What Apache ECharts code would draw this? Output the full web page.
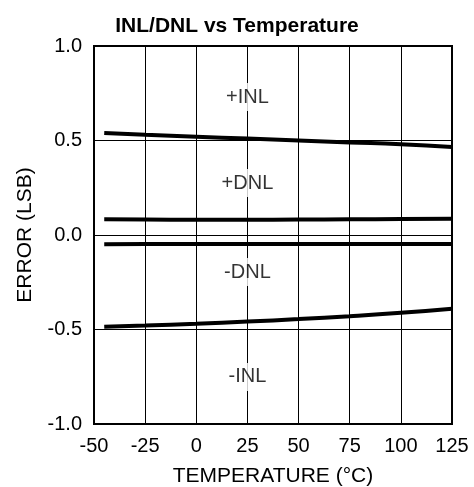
<!DOCTYPE html>
<html>
<head>
<meta charset="utf-8">
<script src="https://cdn.jsdelivr.net/npm/echarts@6/dist/echarts.min.js"></script>
<style>
html,body{margin:0;padding:0;background:#fff;}
#chart{width:474px;height:487px;}
</style>
</head>
<body>
<div id="chart"></div>
<script>
// 温度点
var temps = [-45, -25, 0, 25, 50, 75, 100, 125];
var posINL = [0.54, 0.53, 0.52, 0.51, 0.50, 0.49, 0.48, 0.465];
var posDNL = [0.083, 0.082, 0.081, 0.081, 0.082, 0.083, 0.084, 0.086];
var negDNL = [-0.049, -0.048, -0.048, -0.048, -0.048, -0.048, -0.048, -0.048];
var negINL = [-0.485, -0.479, -0.470, -0.458, -0.445, -0.43, -0.412, -0.39];
var labelNames = ['+INL', '+DNL', '-DNL', '-INL'];
var labelY = [0.73, 0.275, -0.196, -0.751];
var labelX = 25;

function pairs(ys){
	var out = [];
	for(var i=0;i<temps.length;i++){ out.push([temps[i], ys[i]]); }
	return out;
}

function curve(ys){
	return {
		type:'line',
		data:pairs(ys),
		smooth:true,
		symbol:'none',
		lineStyle:{color:'#000', width:4},
		z:3
	};
}

var labelData = [];
for(var i=0;i<labelNames.length;i++){
	labelData.push({value:[labelX, labelY[i]], name:labelNames[i]});
}

var myChart = echarts.init(document.getElementById('chart'));
var font = 'Liberation Sans, Arial, sans-serif';
myChart.setOption({
	animation:false,
	title:{
		text:'INL/DNL vs Temperature',
		left:'center', top:11,
		textStyle:{fontFamily:font, fontSize:21, fontWeight:'bold', color:'#000'}
	},
	grid:{left:94, right:22, top:46, bottom:63, outerBoundsMode:'none', containLabel:false,
		show:true, borderColor:'#000', borderWidth:2, backgroundColor:'transparent'},
	xAxis:{
		type:'value', min:-50, max:125, interval:25,
		name:'TEMPERATURE (°C)', nameLocation:'middle', nameGap:42,
		nameTextStyle:{fontFamily:font, fontSize:21, color:'#000'},
		axisLine:{show:false}, axisTick:{show:false},
		axisLabel:{fontFamily:font, fontSize:20, color:'#000', margin:12},
		splitLine:{show:true, lineStyle:{color:'#000', width:1}}
	},
	yAxis:{
		type:'value', min:-1, max:1, interval:0.5,
		name:'ERROR (LSB)', nameLocation:'middle', nameGap:58,
		nameTextStyle:{fontFamily:font, fontSize:21, color:'#000'},
		axisLine:{show:false}, axisTick:{show:false},
		axisLabel:{fontFamily:font, fontSize:20, color:'#000', margin:12,
			formatter:function(v){ return v.toFixed(1); }},
		splitLine:{show:true, lineStyle:{color:'#000', width:1}}
	},
	series:[
		curve(posINL), curve(posDNL), curve(negDNL), curve(negINL),
		{
			type:'scatter', data:labelData, symbolSize:1, itemStyle:{color:'transparent'},
			z:5,
			label:{show:true, position:'inside', formatter:'{b}', fontFamily:font, fontSize:20,
				color:'#000', backgroundColor:'#fff', padding:[4,2]}
		}
	]
});
</script>
</body>
</html>
